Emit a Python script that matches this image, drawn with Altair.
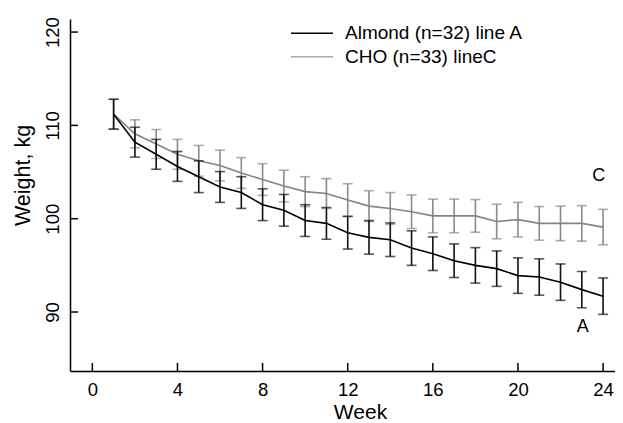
import altair as alt
import pandas as pd

weeks = list(range(1, 25))
almond_mean = [111.2, 108.2, 106.9, 105.6, 104.5, 103.4, 102.8, 101.5, 100.9, 99.8, 99.5, 98.5,
               98.0, 97.75, 96.85, 96.25, 95.5, 95.0, 94.65, 93.9, 93.75, 93.2, 92.4, 91.7]
almond_se = [1.6, 1.6, 1.6, 1.6, 1.7, 1.65, 1.7, 1.7, 1.7, 1.7, 1.7, 1.75,
             1.8, 1.8, 1.85, 1.8, 1.8, 1.9, 1.9, 1.9, 1.95, 1.95, 1.95, 1.95]
cho_mean = [111.2, 109.1, 108.0, 106.9, 106.2, 105.7, 104.9, 104.2, 103.5, 102.9, 102.7, 102.0,
            101.35, 101.1, 100.75, 100.3, 100.3, 100.3, 99.7, 99.9, 99.5, 99.5, 99.5, 99.1]
cho_se = [1.6, 1.5, 1.55, 1.6, 1.65, 1.65, 1.65, 1.7, 1.7, 1.6, 1.6, 1.75,
          1.65, 1.7, 1.8, 1.8, 1.8, 1.75, 1.85, 1.85, 1.8, 1.85, 1.9, 1.9]

x_ticks = [0, 4, 8, 12, 16, 20, 24]
y_ticks = [90, 100, 110, 120]
legend_labels = ["Almond (n=32) line A", "CHO (n=33) lineC"]
line_labels = ["A", "C"]
line_label_x = [23.05, 23.8]
line_label_y = [88.4, 104.6]

FONT = "Liberation Sans"
W, H = 545, 352
xs = alt.Scale(domain=[-1.05, 24.56], nice=False, zero=False)
ys = alt.Scale(domain=[83.68, 121.4], nice=False, zero=False)

XAX = alt.Axis(
    values=x_ticks, ticks=False, tickSize=0, grid=False, labelPadding=9,
    labelFontSize=18.5, labelFont=FONT, labelColor="black", labelFlush=False,
    domainColor="black", domainWidth=1.5,
    titleFont=FONT, titleFontSize=21, titleFontWeight="normal",
    titleColor="black", titleX=290, titleY=47, titleBaseline="alphabetic",
    titleAlign="center")
YAX = alt.Axis(
    values=y_ticks, ticks=False, tickSize=0, grid=False, labelPadding=8,
    labelFontSize=18.5, labelFont=FONT, labelColor="black", labelAngle=270,
    labelAlign="center", labelBaseline="bottom", labelFlush=False,
    domainColor="black", domainWidth=1.5,
    titleFont=FONT, titleFontSize=21.5, titleFontWeight="normal",
    titleColor="black", titleAngle=270, titleX=-47, titleY=156,
    titleAlign="center", titleBaseline="middle")


def X(f):
    return alt.X(f, scale=xs, axis=XAX, title="Week")


def Y(f):
    return alt.Y(f, scale=ys, axis=YAX, title="Weight, kg")


def frame(mean, se):
    return pd.DataFrame({
        "week": weeks,
        "mean": mean,
        "lo": [m - s for m, s in zip(mean, se)],
        "hi": [m + s for m, s in zip(mean, se)],
    })


def caps(mean, se):
    vals = [m - s for m, s in zip(mean, se)] + [m + s for m, s in zip(mean, se)]
    return pd.DataFrame({"week": weeks + weeks, "v": vals})


def series(mean, se, line_color, bar_color):
    d = frame(mean, se)
    rules = alt.Chart(d).mark_rule(color=bar_color, strokeWidth=1.6).encode(
        x=X("week:Q"), y=Y("lo:Q"), y2="hi:Q")
    tk = alt.Chart(caps(mean, se)).mark_tick(
        color=bar_color, orient="horizontal", size=10, thickness=1.6
    ).encode(x=X("week:Q"), y=Y("v:Q"))
    ln = alt.Chart(d).mark_line(color=line_color, strokeWidth=1.6).encode(
        x=X("week:Q"), y=Y("mean:Q"))
    return [rules, tk, ln]


xt = alt.Chart(pd.DataFrame({"t": x_ticks})).mark_rule(color="black", strokeWidth=1.5).encode(
    x=X("t:Q"), y=alt.value(H), y2=alt.value(H - 8))
yt = alt.Chart(pd.DataFrame({"v": y_ticks})).mark_rule(color="black", strokeWidth=1.5).encode(
    y=Y("v:Q"), x=alt.value(0), x2=alt.value(8))

layers = [xt, yt]
layers += series(cho_mean, cho_se, "#848484", "#8a8a8a")
layers += series(almond_mean, almond_se, "#000000", "#111111")

lab = alt.Chart(pd.DataFrame({"x": line_label_x, "y": line_label_y, "t": line_labels})).mark_text(
    font=FONT, fontSize=18, color="black", align="center", baseline="middle"
).encode(x=X("x:Q"), y=Y("y:Q"), text="t:N")
layers.append(lab)

legend_colors = ["#000000", "#a8a8a8"]
legend_rows = [14.3, 37.7]
for lbl, col, ry in zip(legend_labels, legend_colors, legend_rows):
    dd = pd.DataFrame({"t": [lbl]})
    layers.append(alt.Chart(dd).mark_rule(color=col, strokeWidth=1.6).encode(
        x=alt.value(221), x2=alt.value(263), y=alt.value(ry)))
    layers.append(alt.Chart(dd).mark_text(
        font=FONT, fontSize=19, color="black", align="left", baseline="middle"
    ).encode(x=alt.value(275), y=alt.value(ry), text="t:N"))

chart = alt.layer(*layers).properties(
    width=W, height=H,
    padding={"left": 62, "top": 11, "right": 0, "bottom": 52},
    autosize=alt.AutoSizeParams(type="none"),
    background="white",
).configure_view(strokeWidth=0)

chart.save("out.html", embed_options={"renderer": "svg", "actions": False})
